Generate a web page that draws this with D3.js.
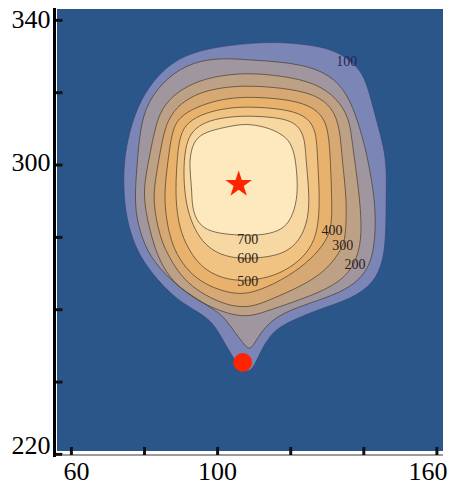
<!DOCTYPE html>
<html>
<head>
<meta charset="utf-8">
<script src="https://cdn.jsdelivr.net/npm/d3@7"></script>
<style>
  html, body { margin: 0; padding: 0; background: #ffffff; }
  svg { display: block; }
</style>
</head>
<body>
<svg id="chart" width="453" height="485"></svg>
<script>
// ---- data -------------------------------------------------------------
// Axis extents (data units) and ticks
const xDomain = [56.2, 161.8];
const yDomain = [220.8, 343.0];
const xTicks = [60, 80, 100, 120, 140, 160];
const xTickLabels = [60, 100, 160];
const yTicks = [220, 240, 260, 280, 300, 320, 340];
const yTickLabels = [220, 300, 340];

// Contour levels, outermost first; each band is the area above its level
const levels = [50, 100, 200, 300, 400, 500, 600, 700];

// Closed contour outlines, [x, y] in data units
const contour50 = [[109.0,333.6],[118.0,333.9],[127.3,332.8],[132.2,331.4],[136.3,328.9],[139.9,325.3],[141.8,319.3],[143.7,311.8],[145.6,304.9],[146.4,298.5],[146.2,290.2],[146.2,280.6],[145.4,273.1],[142.9,267.3],[136.9,262.9],[127.3,259.8],[120.8,257.0],[116.1,254.6],[113.1,250.7],[110.9,246.0],[109.0,242.2],[106.3,243.8],[104.3,246.8],[101.6,251.5],[98.9,256.2],[95.3,259.0],[89.0,262.6],[83.6,268.1],[78.9,274.5],[76.2,281.1],[74.6,288.8],[74.3,298.5],[75.4,306.8],[78.1,316.0],[82.5,323.4],[89.0,329.5],[98.1,332.3]];
const contour100 = [[109.0,328.9],[118.0,328.4],[127.3,326.7],[133.6,322.6],[137.2,316.0],[139.6,308.2],[141.3,301.3],[143.2,290.2],[143.4,281.1],[142.3,273.1],[139.1,268.1],[133.6,264.5],[125.4,261.7],[118.0,259.0],[113.9,255.9],[111.2,252.4],[109.0,248.2],[107.1,250.7],[104.9,253.5],[102.7,256.8],[100.0,259.5],[93.4,263.4],[87.1,268.1],[81.6,274.5],[78.9,281.1],[77.3,288.8],[78.1,299.9],[78.9,309.6],[80.8,317.1],[86.3,324.2],[93.4,328.4],[101.3,329.5]];
const contour200 = [[109.0,325.3],[118.0,324.5],[126.8,322.6],[132.8,318.4],[136.1,312.9],[136.9,306.8],[137.6,301.3],[139.1,290.2],[139.6,280.6],[138.5,274.8],[136.3,270.3],[131.6,266.2],[122.7,262.6],[114.5,259.8],[109.0,257.9],[104.1,258.4],[98.1,260.6],[92.6,263.7],[87.7,267.8],[84.4,273.1],[82.2,279.2],[79.7,290.2],[80.5,297.1],[81.6,302.7],[83.0,310.1],[84.9,315.7],[89.0,320.1],[95.3,323.4],[102.2,324.8]];
const contour300 = [[109.0,321.8],[118.0,321.2],[126.8,319.5],[131.6,315.7],[133.6,310.1],[134.2,301.3],[135.5,290.2],[135.2,280.6],[134.4,277.5],[132.5,274.2],[128.9,270.0],[122.7,266.2],[114.5,262.6],[109.0,260.4],[103.5,260.9],[98.1,263.1],[93.1,266.2],[89.3,270.3],[86.6,275.0],[84.4,279.7],[82.2,290.2],[83.6,298.5],[85.2,308.2],[87.1,313.7],[91.2,317.9],[96.7,320.4],[103.0,321.5]];
const contour400 = [[109.0,318.7],[118.0,318.2],[125.4,316.5],[129.5,312.9],[130.6,307.4],[131.0,301.3],[131.4,290.2],[131.4,281.9],[128.7,277.2],[124.6,272.8],[118.0,268.1],[109.0,264.0],[103.0,264.5],[97.5,266.5],[93.1,269.5],[89.8,273.6],[87.1,279.2],[85.2,290.2],[86.6,301.3],[87.7,309.6],[89.8,313.2],[93.9,315.7],[99.4,317.6],[104.1,318.4]];
const contour500 = [[109.0,316.0],[118.0,315.4],[124.0,313.7],[126.8,310.1],[127.3,305.4],[127.5,301.3],[128.1,290.2],[127.6,281.9],[125.4,276.4],[121.3,272.3],[115.8,269.2],[109.0,267.8],[103.0,268.1],[98.1,270.0],[94.5,273.1],[92.0,277.0],[89.8,281.9],[88.5,290.2],[89.0,301.3],[89.8,308.2],[92.0,311.8],[96.7,314.3],[103.0,315.7]];
const contour600 = [[109.0,313.5],[118.0,312.9],[122.1,311.0],[124.0,307.4],[124.3,301.3],[125.4,290.2],[124.6,283.3],[121.8,277.8],[117.2,275.0],[111.7,274.2],[106.3,273.9],[100.8,275.0],[96.7,277.8],[93.9,281.9],[91.8,287.5],[90.9,294.4],[90.9,301.3],[91.8,306.8],[93.9,310.1],[98.1,312.3],[103.5,313.2]];
const contour700 = [[109.0,311.2],[114.5,310.1],[119.1,307.6],[121.0,304.1],[121.8,298.5],[122.1,291.6],[120.8,286.1],[118.6,282.5],[114.5,280.8],[109.0,280.3],[103.5,280.6],[98.1,281.4],[94.8,283.6],[93.1,288.0],[93.1,293.8],[92.3,299.9],[93.1,305.4],[95.3,308.2],[98.9,309.6],[105.4,311.0]];

// Inline contour labels: level and where it sits (data units)
const labelLevels = [100, 200, 300, 400, 500, 600, 700];
const labelPoints = [[135.5,328.4],[137.7,272.5],[134.4,277.5],[131.4,281.9],[108.4,267.6],[108.4,273.9],[108.4,279.2]];

// Markers
const peakPoint = [105.9, 294.5];
const stationPoint = [107.0, 245.3];

// ---- styles -----------------------------------------------------------
const backgroundColor = "#2a5689";
const bandColors = ["#7b86b6", "#a0969f", "#bda186", "#d6a873", "#e8b26c", "#f1c383", "#f8d8a2", "#fde9bd"];
const markerColor = "#ff2400";

// ---- layout -----------------------------------------------------------
const plot = { left: 57, right: 443, top: 9, bottom: 451 };
const x = d3.scaleLinear().domain(xDomain).range([plot.left, plot.right]);
const y = d3.scaleLinear().domain(yDomain).range([plot.bottom, plot.top]);

const svg = d3.select("#chart");

// plot background
svg.append("rect")
  .attr("x", plot.left).attr("y", plot.top)
  .attr("width", plot.right - plot.left)
  .attr("height", plot.bottom - plot.top)
  .attr("fill", backgroundColor);

// filled contour bands and their outlines
const outlines = [contour50, contour100, contour200, contour300, contour400, contour500, contour600, contour700];
const shape = d3.line()
  .x(d => x(d[0]))
  .y(d => y(d[1]))
  .curve(d3.curveBasisClosed);

const bands = svg.append("g").attr("class", "bands");
bands.selectAll("path.band")
  .data(levels)
  .join("path")
  .attr("class", "band")
  .attr("d", (lv, i) => shape(outlines[i]))
  .attr("fill", (lv, i) => bandColors[i]);

bands.selectAll("path.isoline")
  .data(levels)
  .join("path")
  .attr("class", "isoline")
  .attr("d", (lv, i) => shape(outlines[i]))
  .attr("fill", "none")
  .attr("stroke", (lv, i) => i === 0 ? "#33406e" : "#4a3a28")
  .attr("stroke-opacity", (lv, i) => i === 0 ? 0.55 : 0.7)
  .attr("stroke-width", 1);

// contour labels
svg.append("g").attr("class", "clabels")
  .selectAll("text")
  .data(labelLevels)
  .join("text")
  .attr("x", (lv, i) => x(labelPoints[i][0]))
  .attr("y", (lv, i) => y(labelPoints[i][1]))
  .attr("text-anchor", "middle")
  .attr("dominant-baseline", "central")
  .attr("font-family", "'Liberation Serif', 'DejaVu Serif', serif")
  .attr("font-size", 14)
  .attr("fill", lv => lv === 100 ? "#2a2350" : "#2b2119")
  .text(lv => lv);

// markers
svg.append("path")
  .attr("transform", `translate(${x(peakPoint[0])},${y(peakPoint[1])})`)
  .attr("d", d3.symbol(d3.symbolStar, 220)())
  .attr("fill", markerColor);

svg.append("circle")
  .attr("cx", x(stationPoint[0]))
  .attr("cy", y(stationPoint[1]))
  .attr("r", 9.3)
  .attr("fill", markerColor);

// ---- axes -------------------------------------------------------------
const fontFamily = "'Liberation Serif', 'Times New Roman', serif";

// bottom axis
const xAxisY = 455;
svg.append("line")
  .attr("x1", 63).attr("x2", plot.right)
  .attr("y1", xAxisY).attr("y2", xAxisY)
  .attr("stroke", "#9c9c9c").attr("stroke-width", 2);

const xAxis = svg.append("g")
  .attr("transform", `translate(0,${xAxisY})`)
  .call(d3.axisBottom(x)
    .tickValues(xTicks)
    .tickSizeInner(-8)
    .tickSizeOuter(0)
    .tickPadding(6.5)
    .tickFormat(d => xTickLabels.includes(d) ? d : ""));
xAxis.select(".domain").remove();
xAxis.selectAll(".tick line").attr("stroke", "#111").attr("stroke-width", 3);
xAxis.selectAll(".tick text")
  .attr("font-family", fontFamily)
  .attr("font-size", 26)
  .attr("fill", "#000")
  .each(function (d) {
    const w = this.getComputedTextLength();
    const cx = Math.max(plot.left + w / 2 + 6, Math.min(plot.right + 4 - w / 2, x(d)));
    d3.select(this).attr("x", cx - x(d));
  });

// left axis
const yAxisX = 54.5;
const yAxis = svg.append("g")
  .attr("transform", `translate(${yAxisX},0)`)
  .call(d3.axisLeft(y)
    .tickValues(yTicks)
    .tickSizeInner(-8)
    .tickSizeOuter(0)
    .tickPadding(4)
    .tickFormat(d => yTickLabels.includes(d) ? d : ""));
yAxis.select(".domain").remove();
yAxis.selectAll(".tick line").attr("stroke", "#111").attr("stroke-width", 3);
yAxis.selectAll(".tick text")
  .attr("font-family", fontFamily)
  .attr("font-size", 26)
  .attr("fill", "#000")
  .each(function (d) {
    const cy = Math.max(plot.top + 12, Math.min(plot.bottom - 4, y(d)));
    d3.select(this).attr("y", cy - y(d) - 2);
  });

svg.append("line")
  .attr("x1", yAxisX).attr("x2", yAxisX)
  .attr("y1", plot.top - 1).attr("y2", xAxisY + 2)
  .attr("stroke", "#000").attr("stroke-width", 3);
</script>
</body>
</html>
